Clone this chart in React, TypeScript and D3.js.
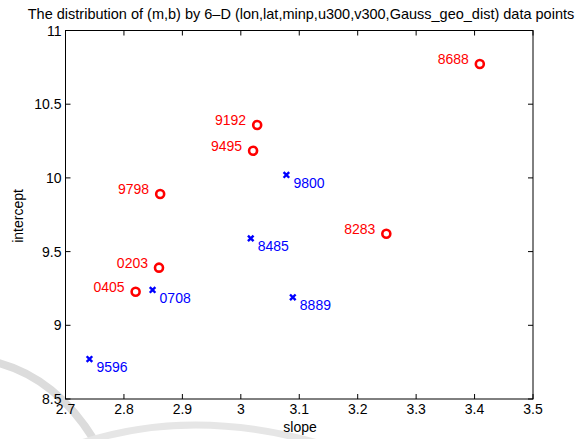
import React, { useRef, useEffect } from 'react';
import * as d3 from 'd3';

const circleLabels = ['8688', '9192', '9495', '9798', '8283', '0203', '0405'];
const circleSlope = [3.409, 3.028, 3.021, 2.862, 3.249, 2.86, 2.82];
const circleIntercept = [10.773, 10.359, 10.184, 9.891, 9.621, 9.391, 9.228];

const crossLabels = ['9800', '8485', '0708', '8889', '9596'];
const crossSlope = [3.078, 3.017, 2.849, 3.089, 2.741];
const crossIntercept = [10.02, 9.59, 9.24, 9.19, 8.771];

const xTicks = [2.7, 2.8, 2.9, 3.0, 3.1, 3.2, 3.3, 3.4, 3.5];
const yTicks = [8.5, 9, 9.5, 10, 10.5, 11];

const title = 'The distribution of (m,b) by 6\u2013D (lon,lat,minp,u300,v300,Gauss_geo_dist) data points';

const W = 583;
const H = 439;
const FONT = '"Liberation Sans", Arial, Helvetica, sans-serif';

function App() {
    const svgRef = useRef(null);

    useEffect(() => {
        const svg = d3.select(svgRef.current);
        svg.selectAll('*').remove();

        const left = 65.5, right = 533, top = 30.5, bottom = 399;
        const x = d3.scaleLinear().domain([2.7, 3.5]).range([left, right]);
        const y = d3.scaleLinear().domain([8.5, 11]).range([bottom, top]);
        const fmt = (d) => String(+d.toFixed(2));

        // faint background swoosh from the scanned page
        svg.append('path')
            .attr('d', 'M -5 362 Q 60 378 100 450')
            .attr('fill', 'none').attr('stroke', '#dcdcdc').attr('stroke-width', 8);
        svg.append('path')
            .attr('d', 'M 62 450 Q 190 400 340 450')
            .attr('fill', 'none').attr('stroke', '#e6e6e6').attr('stroke-width', 7);

        // box
        svg.append('rect')
            .attr('x', left).attr('y', top)
            .attr('width', right - left).attr('height', bottom - top)
            .attr('fill', 'none').attr('stroke', '#000').attr('stroke-width', 1);

        const tickLen = 5;
        const g = svg.append('g').attr('stroke', '#000').attr('stroke-width', 1);
        xTicks.forEach(t => {
            g.append('line').attr('x1', x(t)).attr('x2', x(t)).attr('y1', bottom).attr('y2', bottom - tickLen);
            g.append('line').attr('x1', x(t)).attr('x2', x(t)).attr('y1', top).attr('y2', top + tickLen);
        });
        yTicks.forEach(t => {
            g.append('line').attr('x1', left).attr('x2', left + tickLen).attr('y1', y(t)).attr('y2', y(t));
            g.append('line').attr('x1', right).attr('x2', right - tickLen).attr('y1', y(t)).attr('y2', y(t));
        });

        svg.selectAll('.xlab')
            .data(xTicks)
            .join('text')
            .attr('x', d => x(d))
            .attr('y', 414)
            .attr('text-anchor', 'middle')
            .attr('font-family', FONT).attr('font-size', 14)
            .text(fmt);

        svg.selectAll('.ylab')
            .data(yTicks)
            .join('text')
            .attr('x', left - 4)
            .attr('y', d => y(d) + 5)
            .attr('text-anchor', 'end')
            .attr('font-family', FONT).attr('font-size', 14)
            .text(fmt);

        svg.append('text')
            .attr('x', 300).attr('y', 432)
            .attr('text-anchor', 'middle')
            .attr('font-family', FONT).attr('font-size', 14)
            .text('slope');

        svg.append('text')
            .attr('transform', 'translate(23,216) rotate(-90)')
            .attr('text-anchor', 'middle')
            .attr('font-family', FONT).attr('font-size', 14)
            .text('intercept');

        svg.append('text')
            .attr('x', 301).attr('y', 19)
            .attr('text-anchor', 'middle')
            .attr('font-family', FONT).attr('font-size', 14.5)
            .text(title);

        // red circles
        const circ = circleLabels.map((l, i) => ({ l, s: circleSlope[i], b: circleIntercept[i] }));
        svg.selectAll('.circ')
            .data(circ)
            .join('circle')
            .attr('cx', d => x(d.s)).attr('cy', d => y(d.b)).attr('r', 4)
            .attr('fill', 'none').attr('stroke', '#ff0000').attr('stroke-width', 2.6);
        svg.selectAll('.circlab')
            .data(circ)
            .join('text')
            .attr('x', d => x(d.s) - 11).attr('y', d => y(d.b))
            .attr('text-anchor', 'end')
            .attr('fill', '#ff0000')
            .attr('font-family', FONT).attr('font-size', 14)
            .text(d => d.l);

        // blue crosses
        const cross = crossLabels.map((l, i) => ({ l, s: crossSlope[i], b: crossIntercept[i] }));
        const k = 2.8;
        svg.selectAll('.cross')
            .data(cross)
            .join('path')
            .attr('d', d => {
                const cx = x(d.s), cy = y(d.b);
                return `M${cx - k},${cy - k}L${cx + k},${cy + k}M${cx - k},${cy + k}L${cx + k},${cy - k}`;
            })
            .attr('stroke', '#0000ff').attr('stroke-width', 2.4).attr('fill', 'none');
        svg.selectAll('.crosslab')
            .data(cross)
            .join('text')
            .attr('x', d => x(d.s) + 7).attr('y', d => y(d.b) + 13)
            .attr('fill', '#0000ff')
            .attr('font-family', FONT).attr('font-size', 14)
            .text(d => d.l);
    }, []);

    return (
        <svg ref={svgRef} width={W} height={H}
            style={{ position: 'absolute', left: 0, top: 0, background: '#fff' }} />
    );
}

export default App;
